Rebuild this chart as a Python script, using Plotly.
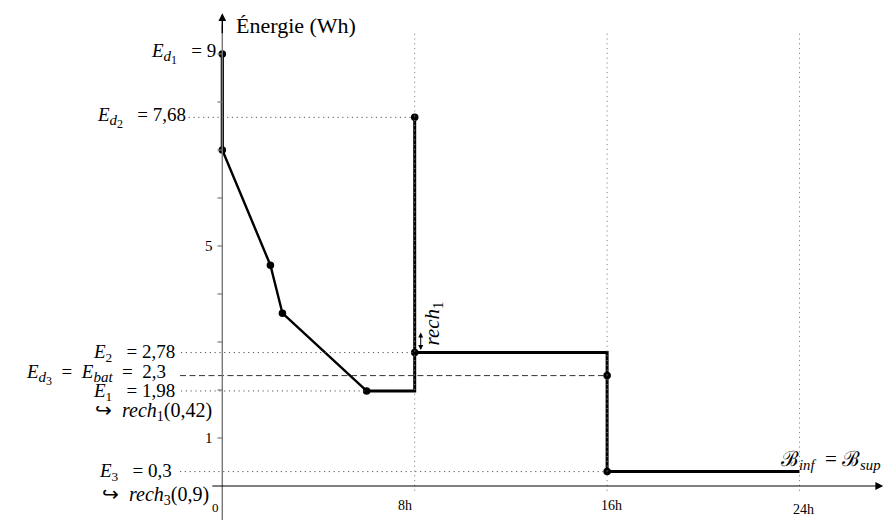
import plotly.graph_objects as go

# ---- data ----
path_t = [0, 0, 2, 2.5, 6, 8, 8]
path_e = [9, 7, 4.6, 3.6, 1.98, 1.98, 7.68]
step_t = [8, 16, 16, 24]
step_e = [2.78, 2.78, 0.3, 0.3]
dot_t = [0, 0, 2, 2.5, 6, 8, 8, 16, 16]
dot_e = [9, 7, 4.6, 3.6, 1.98, 7.68, 2.78, 2.3, 0.3]
E_d1, E_d2, E2, E_bat, E1, E3 = 9, 7.68, 2.78, 2.3, 1.98, 0.3
rech1, rech3 = 0.42, 0.9
hour_ticks = [8, 16, 24]
hour_labels = ["8h", "16h", "24h"]
e_ticks = [1, 2, 3, 4, 5, 6, 7, 8, 9]

SERIF = "Liberation Serif"
NB = "&nbsp;"
def eq(before, after):
    return NB * before + "=" + NB * after

fig = go.Figure()

shapes = []
def seg(x0, y0, x1, y1, color="black", width=1, dash=None):
    d = dict(type="line", xref="x", yref="y", x0=x0, y0=y0, x1=x1, y1=y1,
             line=dict(color=color, width=width))
    if dash:
        d["line"]["dash"] = dash
    shapes.append(d)

DOT = "1.2px,3.6px"
for h in hour_ticks:
    seg(h, -0.1, h, 9.44, color="#888", width=1, dash=DOT)
seg(-1.40, E_d2, 8, E_d2, color="#555", width=1, dash=DOT)
seg(-1.72, E2, 8, E2, color="#555", width=1, dash=DOT)
seg(-1.76, E_bat, 16, E_bat, color="#333", width=1, dash="6px,3.5px")
seg(-1.72, E1, 6, E1, color="#555", width=1, dash=DOT)
seg(-1.76, E3, 16, E3, color="#555", width=1, dash=DOT)
seg(0, -0.9, 0, 9.6, color="#777", width=1.4)
for v in e_ticks:
    seg(-0.2, v, 0, v, color="#777", width=1.2)

fig.add_trace(go.Scatter(x=path_t[:2], y=path_e[:2], mode="lines",
                         line=dict(color="black", width=3.2), hoverinfo="skip"))
fig.add_trace(go.Scatter(x=path_t[1:5], y=path_e[1:5], mode="lines",
                         line=dict(color="black", width=2.4), hoverinfo="skip"))
fig.add_trace(go.Scatter(x=path_t[4:], y=path_e[4:], mode="lines",
                         line=dict(color="black", width=3), hoverinfo="skip"))
fig.add_trace(go.Scatter(x=step_t, y=step_e, mode="lines",
                         line=dict(color="black", width=3), hoverinfo="skip"))
fig.add_trace(go.Scatter(x=dot_t, y=dot_e, mode="markers",
                         marker=dict(color="black", size=7.5), hoverinfo="skip"))

ann = []
def txt(x, y, s, size=19, xanchor="right", yanchor="middle", angle=0):
    ann.append(dict(x=x, y=y, xref="x", yref="y", text=s, showarrow=False,
                    xanchor=xanchor, yanchor=yanchor, textangle=angle,
                    borderpad=0,
                    font=dict(family=SERIF, size=size, color="black")))

def num(v):
    return str(v).replace(".", ",")

def Ed(k):
    return ("<i>E</i><sub><span style='font-size:15px'><i>d</i></span>"
            "<sub><span style='font-size:12px'>" + str(k) + "</span></sub></sub>")

txt(-0.22, E_d1, Ed(1) + eq(3, 1) + num(E_d1))
txt(-1.47, E_d2, Ed(2) + eq(3, 1) + num(E_d2))
txt(-0.35, 5, "5", size=15)
txt(-1.93, E2, "<i>E</i><sub>2</sub>" + eq(3, 1) + num(E2))
txt(-2.30, E_bat + 0.03, Ed(3) + eq(2, 2) + "<i>E</i><sub><span style='font-size:15px'><i>bat</i></span></sub>" + eq(2, 2) + num(E_bat))
txt(-1.93, E1 - 0.03, "<i>E</i><sub>1</sub>" + eq(3, 1) + num(E1))
txt(-0.39, 1.56, "↪" + NB * 2 + "<i>rech</i><sub>1</sub>(" + num(rech1) + ")", size=20)
txt(-0.35, 1, "1", size=15)
txt(-2.05, E3, "<i>E</i><sub>3</sub>" + eq(3, 1) + num(E3))
txt(-0.51, -0.19, "↪" + NB * 2 + "<i>rech</i><sub>3</sub>(" + num(rech3) + ")", size=20)
txt(-0.3, -0.44, "0", size=13, xanchor="center")
hx = [7.58, 16.2, 24.17]
hy = [-0.40, -0.40, -0.48]
for lab, yy, xx in zip(hour_labels, hy, hx):
    txt(xx, yy, lab, size=14, xanchor="center")
txt(0.54, 9.6, "Énergie (Wh)", size=22, xanchor="left")
txt(23.19, 0.55, "ℬ<sub><i>inf</i></sub>" + eq(2, 1) + "ℬ<sub><i>sup</i></sub>", size=21, xanchor="left")
txt(8.74, 3.375, "<i>rech</i><sub>1</sub>", size=21, xanchor="center", angle=-90)

ann.append(dict(x=27.48, y=0, ax=-0.48, ay=0, xref="x", yref="y", axref="x", ayref="y",
                text="", showarrow=True, arrowhead=2, arrowsize=1.3, arrowwidth=1.2,
                arrowcolor="black"))
ann.append(dict(x=0, y=9.85, ax=0, ay=9.4, xref="x", yref="y", axref="x", ayref="y",
                text="", showarrow=True, arrowhead=2, arrowsize=1.1, arrowwidth=1.4,
                arrowcolor="black"))
ann.append(dict(x=8.25, y=E2 + rech1, ax=8.25, ay=E2 + 0.02, xref="x", yref="y",
                axref="x", ayref="y", text="", showarrow=True, arrowhead=2,
                arrowside="end+start", arrowsize=1, arrowwidth=1, arrowcolor="black"))

# page body has an 8px margin: ranges are offset so marks land on the reference pixels
fig.update_layout(
    width=896, height=520, margin=dict(l=0, r=0, t=0, b=0),
    paper_bgcolor="white", plot_bgcolor="white", showlegend=False,
    shapes=shapes, annotations=ann,
    xaxis=dict(range=[-8.911, 28.345], visible=False, fixedrange=True),
    yaxis=dict(range=[-0.875, 9.958], visible=False, fixedrange=True),
)
fig.write_html("out.html")
